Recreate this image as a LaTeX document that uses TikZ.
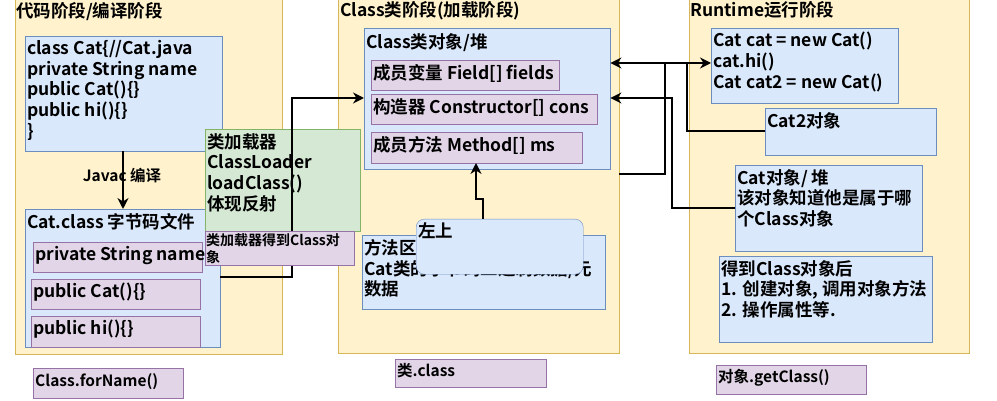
\documentclass[tikz,border=0pt]{standalone}
\usepackage{fontspec}
\setmainfont{Noto Sans CJK SC}[BoldFont={Noto Sans CJK SC Bold}]
\usetikzlibrary{arrows.meta}
\definecolor{yf}{HTML}{FFF2CC}\definecolor{yd}{HTML}{D6B656}
\definecolor{bf}{HTML}{DAE8FC}\definecolor{bd}{HTML}{6C8EBF}
\definecolor{pf}{HTML}{E1D5E7}\definecolor{pd}{HTML}{9673A6}
\definecolor{gf}{HTML}{D5E8D4}\definecolor{gd}{HTML}{82B366}
\tikzset{
 panel/.style={fill=yf,draw=yd},
 blue/.style={fill=bf,draw=bd},
 purp/.style={fill=pf,draw=pd},
 grn/.style={fill=gf,draw=gd},
 txt/.style={anchor=north west,align=left,inner sep=2pt,font=\bfseries\fontsize{17.5}{20.7}\selectfont},
 sm/.style={txt,font=\bfseries\fontsize{15.5}{18}\selectfont},
 ttl/.style={txt,font=\bfseries\fontsize{17.5}{19}\selectfont},
 conn/.style={line width=2.2pt,-{Stealth[length=11pt,width=11pt]}},
 line/.style={line width=2.2pt}
}
\newcommand{\bx}[7]{\node[#6,anchor=north west,inner sep=0pt,minimum width={(#4-#2)*1pt},minimum height={(#5-#3)*1pt}] (#1) at (#2,#3) {};}
\begin{document}
\begin{tikzpicture}[x=1pt,y=-1pt]
\useasboundingbox (0,0) rectangle (997,401);
% panels
\bx{p1}{15}{-2}{282}{354}{panel}{}
\bx{p2}{338}{-2}{619}{353}{panel}{}
\bx{p3}{689}{-2}{969}{353}{panel}{}
\node[ttl] (t1) at (14,0) {代码阶段/编译阶段};
\node[ttl] (t2) at (338,-1) {Class类阶段(加载阶段)};
\node[ttl] (t3) at (688,-1) {Runtime运行阶段};
% panel 1
\bx{src}{25}{36}{222}{151}{blue}{}
\node[txt] (srct) at (25,38) {class Cat\{//Cat.java\\private String name\\public Cat()\{\}\\public hi()\{\}\\\}};
\bx{cls}{25}{209}{220}{347}{blue}{}
\node[txt] (clst) at (25,211) {Cat.class 字节码文件};
\bx{f1}{33}{242}{202}{272}{purp}{}
\node[txt] at (33,244) {private String name};
\bx{f2}{31}{279}{200}{309}{purp}{}
\node[txt] at (31,281) {public Cat()\{\}};
\bx{f3}{31}{316}{200}{347}{purp}{}
\node[txt] at (31,318) {public hi()\{\}};
\draw[conn] (123,151) -- (cls.north -| 123,0);
\node[sm,anchor=center] (javac) at (122,176) {Javac 编译};
\bx{ld}{205}{129}{360}{231}{grn}{}
\node[txt] (ldt) at (205,131) {类加载器\\ClassLoader\\loadClass()\\体现反射};
% arrow from panel 1
\draw[conn] (220,277) -- (292,277) -- (292,98) -- (364,98);
\bx{ldo}{205}{231}{354}{265}{purp}{}
\node[txt,font=\bfseries\fontsize{14}{17}\selectfont,inner sep=1pt] (ldot) at (205,232) {类加载器得到Class对\\象};
\bx{fn}{33}{368}{183}{398}{purp}{}
\node[sm] at (33,371) {Class.forName()};
% panel 2
\bx{co}{364}{28}{610}{169}{blue}{}
\node[txt] (cot) at (364,31) {Class类对象/堆};
\bx{m1}{371}{60}{559}{90}{purp}{}
\node[txt] at (371,62) {成员变量 Field[] fields};
\bx{m2}{371}{94}{597}{124}{purp}{}
\node[txt] at (371,96) {构造器 Constructor[] cons};
\bx{m3}{371}{132}{582}{163}{purp}{}
\node[txt] at (371,134) {成员方法 Method[] ms};
\bx{ma}{362}{235}{605}{309}{blue}{}
\node[txt] (mat) at (362,237) {方法区\\Cat类的字节码二进制数据/元\\数据};
\node[blue,anchor=north west,rounded corners=8pt,minimum width=167pt,minimum height=55pt,inner sep=0pt] (zs) at (416,219) {};
\node[txt] at (416,220) {左上};
\draw[conn] (483,219) -- (483,199) -- (476,199) -- (476,163);
\bx{lc}{395}{359}{546}{387}{purp}{}
\node[sm] at (395,361) {类.class};
% panel 3
\bx{code}{711}{28}{898}{103}{blue}{}
\node[txt] (codet) at (711,30) {Cat cat = new Cat()\\cat.hi()\\Cat cat2 = new Cat()};
\bx{c2}{765}{108}{936}{155}{blue}{}
\node[txt] at (765,110) {Cat2对象};
\bx{cobj}{735}{165}{922}{251}{blue}{}
\node[txt] at (735,167) {Cat对象/ 堆\\该对象知道他是属于哪\\个Class对象};
\bx{get}{719}{256}{932}{342}{blue}{}
\node[txt] at (719,258) {得到Class对象后\\1. 创建对象, 调用对象方法\\2. 操作属性等.};
\bx{gc}{716}{365}{866}{394}{purp}{}
\node[sm] at (716,367) {对象.getClass()};
% connectors
\draw[line,{Stealth[length=11pt,width=11pt]}-{Stealth[length=11pt,width=11pt]}] (co.east |- 0,63) -- (code.west |- 0,63);
\draw[line] (619,174) -- (665,174) -- (665,63);
\draw[line] (c2.west |- 0,131) -- (687,131) -- (687,63);
\draw[conn] (cobj.west |- 0,208) -- (672,208) -- (672,98) -- (co.east |- 0,98);
\end{tikzpicture}
\end{document}
